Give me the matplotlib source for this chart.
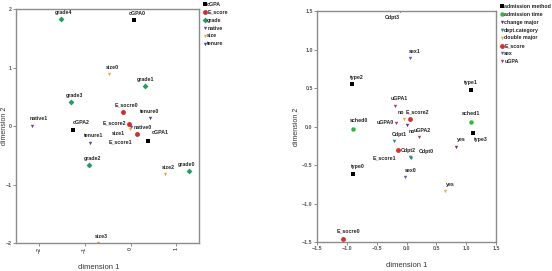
import matplotlib
matplotlib.use("Agg")
import matplotlib.pyplot as plt

plt.rcParams['font.family'] = ['Liberation Sans', 'DejaVu Sans']
plt.rcParams['font.weight'] = 'bold'

# --- left panel data (dimension 1, dimension 2) ---
left_groups = ['cGPA', 'E_score', 'grade', 'native', 'size', 'tenure']
left_labels = {
    'cGPA': ['cGPA0', 'cGPA1', 'cGPA2'],
    'E_score': ['E_socre0', 'E_score1', 'E_score2'],
    'grade': ['grade0', 'grade1', 'grade2', 'grade3', 'grade4'],
    'native': ['native0', 'native1'],
    'size': ['size0', 'size1', 'size2', 'size3'],
    'tenure': ['tenure0', 'tenure1'],
}
left_x = {
    'cGPA': [0.08, 0.38, -1.25],
    'E_score': [-0.16, 0.13, -0.04],
    'grade': [1.27, 0.31, -0.90, -1.30, -1.52],
    'native': [0.02, -2.15],
    'size': [-0.46, -0.02, 0.75, -0.71],
    'tenure': [0.42, -0.88],
}
left_y = {
    'cGPA': [1.81, -0.25, -0.06],
    'E_score': [0.24, -0.14, 0.04],
    'grade': [-0.77, 0.68, -0.67, 0.41, 1.83],
    'native': [-0.01, 0.01],
    'size': [0.89, -0.05, -0.82, -2.0],
    'tenure': [0.14, -0.28],
}

# --- right panel data ---
right_groups = ['admission method', 'admission time', 'change major', 'dept.category',
                'double major', 'E_score', 'sex', 'uGPA']
right_labels = {
    'admission method': ['type0', 'type1', 'type2', 'type3'],
    'admission time': ['sched0', 'sched1'],
    'change major': ['no', 'yes'],
    'dept.category': ['Cdpt0', 'Cdpt1', 'Cdpt2', 'Cdpt3'],
    'double major': ['no', 'yes'],
    'E_score': ['E_socre0', 'E_score1', 'E_score2'],
    'sex': ['sex0', 'sex1'],
    'uGPA': ['uGPA0', 'uGPA1', 'uGPA2'],
}
right_x = {
    'admission method': [-0.89, 1.07, -0.92, 1.11],
    'admission time': [-0.90, 1.08],
    'change major': [0.0, 0.83],
    'dept.category': [0.07, -0.21, 0.05, -0.11],
    'double major': [-0.05, 0.65],
    'E_score': [-1.07, -0.15, 0.06],
    'sex': [-0.02, 0.05],
    'uGPA': [-0.18, -0.20, 0.20],
}
right_y = {
    'admission method': [-0.61, 0.48, 0.55, -0.08],
    'admission time': [-0.03, 0.06],
    'change major': [0.02, -0.26],
    'dept.category': [-0.41, -0.19, -0.40, 1.50],
    'double major': [0.10, -0.84],
    'E_score': [-1.46, -0.31, 0.10],
    'sex': [-0.66, 0.89],
    'uGPA': [0.05, 0.27, -0.13],
}

# marker styles
left_style = {
    'cGPA': ('s', 'black', 2.6),
    'E_score': ('o', '#d42a2a', 3.5),
    'grade': ('D', '#1f9e63', 3.0),
    'native': ('v', '#7a3c9c', 2.4),
    'size': ('v', '#f0a63a', 2.4),
    'tenure': ('v', '#3f4aa8', 2.4),
}
right_style = {
    'admission method': ('s', 'black', 2.6),
    'admission time': ('o', '#2fb83a', 3.2),
    'change major': ('v', '#6b2d8c', 2.4),
    'dept.category': ('v', '#2f8f8a', 2.6),
    'double major': ('v', '#f3a93c', 2.4),
    'E_score': ('o', '#e52a2a', 3.5),
    'sex': ('v', '#5a5ad0', 2.4),
    'uGPA': ('v', '#c0306a', 2.4),
}

# label offsets in pixels (dx, dy of text centre, ha)
left_off = {
    'E_score2': (-3, 1, 'right'), 'native0': (2, -1, 'left'), 'size1': (-5, -4, 'right'),
    'E_score1': (-4, -8, 'right'), 'cGPA1': (4, 8, 'left'), 'cGPA2': (-1, 7, 'left'),
    'native1': (-2, 7, 'left'), 'grade0': (-2, 7, 'center'), 'tenure0': (0, 6, 'center'),
    'grade1': (1, 7, 'center'),
}
right_off = {
    'uGPA0': (-2, 0, 'right'), ('change major', 'no'): (2, -6, 'left'),
    'E_score1': (-1, -7, 'right'), 'Cdpt0': (8, 7, 'left'), 'Cdpt2': (-1, 7, 'center'),
    'Cdpt3': (-8, -6, 'center'), 'type3': (8, -7, 'center'),
    ('change major', 'yes'): (5, 7, 'center'), ('double major', 'no'): (1, 6, 'right'),
    'E_score2': (-5, 7, 'left'), 'uGPA2': (4, 6, 'center'), 'sched0': (6, 8, 'center'),
    'E_socre0': (6, 8, 'center'), 'sched1': (0, 8, 'center'), 'type1': (0, 7, 'center'),
}

fig = plt.figure(figsize=(5.52, 2.71), dpi=100)
ax1 = fig.add_axes([0.029, 0.103, 0.332, 0.863])
ax2 = fig.add_axes([0.574, 0.107, 0.325, 0.852])


def draw(ax, groups, labels, xs, ys, style, offs, default):
    for g in groups:
        m, c, s = style[g]
        ax.plot(xs[g], ys[g], linestyle='none', marker=m, color=c, markersize=s,
                markeredgewidth=0, label=g)
        for lab, x, y in zip(labels[g], xs[g], ys[g]):
            dx, dy, ha = offs.get((g, lab), offs.get(lab, default))
            ax.annotate(lab, (x, y), xytext=(dx, dy), textcoords='offset pixels',
                        fontsize=3.8, ha=ha, va='center', color='#222222')
    for sp in ax.spines.values():
        sp.set_color('#8c8c8c')
        sp.set_linewidth(1.0)
    ax.tick_params(labelsize=3.8, length=2, width=0.6, color='#777777', labelcolor='#555555', pad=1)
    ax.set_xlabel('dimension 1', fontsize=5.5, labelpad=5, color='#333333')
    ax.set_ylabel('dimension 2', fontsize=5.0, color='#333333')
    leg = ax.legend(loc='upper left', bbox_to_anchor=(1.0, 1.045), frameon=False, fontsize=3.8,
                    handletextpad=0.1, handlelength=0.8, labelspacing=0.55, borderaxespad=0.2)
    for t in leg.get_texts():
        t.set_color('#222222')


draw(ax1, left_groups, left_labels, left_x, left_y, left_style, left_off, (3, 7, 'center'))
ax1.set_xlim(-2.5, 1.5)
ax1.set_ylim(-2, 2)
ax1.set_xticks([-2, -1, 0, 1])
ax1.set_yticks([-2, -1, 0, 1, 2])
plt.setp(ax1.get_xticklabels(), rotation=90)
ax1.yaxis.set_label_coords(-0.045, 0.5)
ax1.xaxis.set_label_coords(0.45, -0.09)

draw(ax2, right_groups, right_labels, right_x, right_y, right_style, right_off, (5, 7, 'center'))
ax2.set_xlim(-1.5, 1.5)
ax2.set_ylim(-1.5, 1.5)
ax2.set_xticks([-1.5, -1.0, -0.5, 0.0, 0.5, 1.0, 1.5])
ax2.set_yticks([-1.5, -1.0, -0.5, 0.0, 0.5, 1.0, 1.5])
ax2.yaxis.set_label_coords(-0.095, 0.5)
ax2.xaxis.set_label_coords(0.5, -0.085)

fig.savefig('out.png', dpi=100)
